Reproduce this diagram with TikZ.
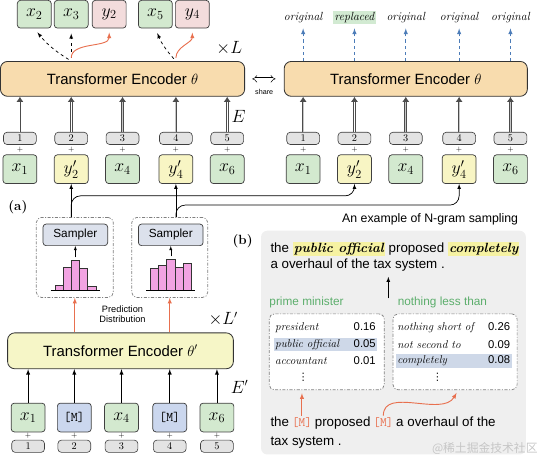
\documentclass[tikz,border=0pt]{standalone}
\usepackage{fontspec}
\setsansfont{Liberation Sans}
\newfontfamily\cjkfont{Noto Sans CJK SC}
\newfontfamily\symfont{DejaVu Sans}
\usepackage{amsmath}
\usetikzlibrary{arrows.meta}
\usetikzlibrary{positioning}
\tikzset{>=latex}

\definecolor{tokgreen}{HTML}{D3E9CF}
\definecolor{tokyellow}{HTML}{F8F5C4}
\definecolor{tokpink}{HTML}{F3DCDC}
\definecolor{tokblue}{HTML}{CBD7EE}
\definecolor{encorange}{HTML}{F8DCAE}
\definecolor{encyellow}{HTML}{F6F6C7}
\definecolor{smpblue}{HTML}{DCE1EC}
\definecolor{barpink}{HTML}{F2A3E2}
\definecolor{arrorange}{HTML}{E8704F}
\definecolor{arrblue}{HTML}{4C7CB8}
\definecolor{txtgreen}{HTML}{5CAE6C}
\definecolor{hlyellow}{HTML}{F6F2A2}
\definecolor{hlblue}{HTML}{CED8E8}
\definecolor{hlgreen}{HTML}{D2EAD2}
\definecolor{panelgray}{HTML}{EFEFEF}

\newcommand{\fsz}[1]{\fontsize{#1}{#1}\selectfont}
\newcommand{\hly}[1]{{\setlength{\fboxsep}{1pt}\colorbox{hlyellow}{\rmfamily\bfseries\itshape #1}}}
\newcommand{\mtk}{{\color{arrorange}\ttfamily[M]}}

\begin{document}
\begin{tikzpicture}[x=1pt,y=-1pt,
  tok/.style={draw=black!75, line width=0.7pt, rounded corners=3pt, minimum width=33pt, minimum height=28pt, inner sep=0pt, font=\fsz{17}},
  tokx/.style={tok, fill=tokgreen},
  toky/.style={tok, fill=tokyellow},
  tokm/.style={tok, fill=tokblue, font=\fsz{13}\ttfamily},
  outx/.style={tok, fill=tokgreen, minimum height=27pt},
  outy/.style={tok, fill=tokpink, minimum height=27pt},
  posbox/.style={draw=black!75, line width=0.6pt, fill=gray!22, rounded corners=3.5pt, minimum width=32pt, minimum height=12pt, inner sep=0pt, font=\fsz{10}},
  plus/.style={inner sep=0pt, font=\fsz{7}},
  enc/.style={draw=black!80, line width=0.8pt, rounded corners=7pt, minimum height=34pt, font=\sffamily\fsz{14.5}},
  emb/.style={draw=black!70, line width=2.6pt, -{Latex[length=5pt,width=7pt]}, postaction={draw=gray!45, line width=1.1pt, -, shorten >=5pt}},
  embw/.style={emb, postaction={draw=white, line width=1.1pt, -, shorten >=5pt}},
  dsh/.style={dashed, line width=0.7pt, ->, shorten <=3pt, shorten >=5pt},
  org/.style={arrorange, line width=0.9pt, ->},
  blu/.style={arrblue, dashed, line width=0.9pt, ->, shorten >=4pt},
  lbl/.style={inner sep=1.5pt, font=\fsz{11.5}\itshape},
  grp/.style={draw=gray, line width=0.7pt, dash pattern=on 3pt off 1.5pt on 1pt off 1.5pt, rounded corners=5pt},
  smp/.style={draw=black!75, line width=0.7pt, fill=smpblue, rounded corners=3pt, minimum width=63pt, minimum height=21pt, inner sep=0pt, font=\sffamily\fsz{11.5}},
  bar/.style={draw=black!80, line width=0.5pt, fill=barpink},
  txt/.style={inner sep=0pt, font=\sffamily\fsz{13}},
  cand/.style={inner sep=1.5pt, font=\fsz{11}, anchor=west},
  vdot/.style={inner sep=0pt, font=\symfont\fsz{10}},
  node distance=50pt, on grid]

% (a) left: generator output and discriminator-free top
\node[tokx] (la1) at (24,171) {$x_1$};
\node[toky] (la2) [right=of la1] {$y'_2$};
\node[tokx] (la3) [right=of la2] {$x_4$};
\node[toky] (la4) [right=52pt of la3] {$y'_4$};
\node[tokx] (la5) [right=of la4] {$x_6$};
\node[posbox] (lp1) [above=30pt of la1] {1};
\node[posbox] (lp2) [above=30pt of la2] {2};
\node[posbox] (lp3) [above=30pt of la3] {3};
\node[posbox] (lp4) [above=30pt of la4] {4};
\node[posbox] (lp5) [above=30pt of la5] {5};
\node[plus] [above=19pt of la1] {+};
\node[plus] [above=19pt of la2] {+};
\node[plus] [above=19pt of la3] {+};
\node[plus] [above=19pt of la4] {+};
\node[plus] [above=19pt of la5] {+};
\node[enc, fill=encorange, minimum width=238pt] (encA) at (124,83) {Transformer Encoder $\theta$};
\path
  (lp1.north) edge[embw] (lp1 |- encA.south)
  (lp2.north) edge[embw] (lp2 |- encA.south)
  (lp3.north) edge[emb] (lp3 |- encA.south)
  (lp4.north) edge[emb] (lp4 |- encA.south)
  (lp5.north) edge[embw] (lp5 |- encA.south);

\node[outx] (o1) at (38,20) {$x_2$};
\node[outx] (o2) [right=36pt of o1] {$x_3$};
\node[outy] (o3) [right=37pt of o2] {$y_2$};
\node[outx] (o4) at (156,20) {$x_5$};
\node[outy] (o5) [right=36pt of o4] {$y_4$};
\coordinate (s2) at (la2 |- encA.north);
\coordinate (s4) at (la4 |- encA.north);
\draw[dsh] (s2) to[bend left=10] (o1.south);
\draw[dsh] (s2) -- (s2 |- o2.south);
\draw[org, shorten <=3pt, shorten >=4pt] (s2) to[out=90,in=-90] (o3.south);
\draw[dsh] (s4) to[bend left=10] (o4.south);
\draw[org, shorten <=3pt, shorten >=4pt] (s4) to[out=90,in=-90] (o5.south);
\node[font=\fsz{16}] at (228,53) {$\times L$};
\node[font=\fsz{16}] at (237,120) {$E$};

% (a) right: shared encoder
\node[tokx] (ra1) at (300,171) {$x_1$};
\node[toky] (ra2) [right=of ra1] {$y'_2$};
\node[tokx] (ra3) [right=of ra2] {$x_4$};
\node[toky] (ra4) [right=52pt of ra3] {$y'_4$};
\node[tokx] (ra5) [right=of ra4] {$x_6$};
\node[posbox] (rp1) [above=30pt of ra1] {1};
\node[posbox] (rp2) [above=30pt of ra2] {2};
\node[posbox] (rp3) [above=30pt of ra3] {3};
\node[posbox] (rp4) [above=30pt of ra4] {4};
\node[posbox] (rp5) [above=30pt of ra5] {5};
\node[plus] [above=19pt of ra1] {+};
\node[plus] [above=19pt of ra2] {+};
\node[plus] [above=19pt of ra3] {+};
\node[plus] [above=19pt of ra4] {+};
\node[plus] [above=19pt of ra5] {+};
\node[enc, fill=encorange, minimum width=237pt] (encB) at (400,83) {Transformer Encoder $\theta$};
\path
  (rp1.north) edge[emb] (rp1 |- encB.south)
  (rp2.north) edge[embw] (rp2 |- encB.south)
  (rp3.north) edge[emb] (rp3 |- encB.south)
  (rp4.north) edge[emb] (rp4 |- encB.south)
  (rp5.north) edge[emb] (rp5 |- encB.south);
\node[lbl] (r1) at (300,23) {original};
\node[lbl, fill=hlgreen] (r2) at (350,23) {replaced};
\node[lbl] (r3) at (400,23) {original};
\node[lbl] (r4) at (452,23) {original};
\node[lbl] (r5) at (502,23) {original};
\path
  (ra1 |- encB.north) edge[blu] (r1.south)
  (ra2 |- encB.north) edge[blu] (r2.south)
  (ra3 |- encB.north) edge[blu] (r3.south)
  (ra4 |- encB.north) edge[blu] (r4.south)
  (ra5 |- encB.north) edge[blu] (r5.south);
\draw[{Implies}-{Implies}, double, double distance=2pt, line width=0.5pt, shorten <=7pt, shorten >=8pt] (encA.east) -- (encB.west);
\node[font=\sffamily\fsz{7}] at (262,96) {share};

% samplers
\node[font=\bfseries\fsz{13}] at (22,208) {(a)};
\node[grp, minimum width=75pt, minimum height=78pt] (g1) at (77.5,257) {};
\node[grp, minimum width=74pt, minimum height=78pt] (g2) at (170,257) {};
\node[smp] (sm1) at (78,235) {Sampler};
\node[smp] (sm2) at (171,235) {Sampler};
\foreach \x/\h in {58/5,66/22,74/29,82/21,90/4}
  \draw[bar] (\x,289) rectangle ++(8,-\h);
\foreach \x/\h in {151/21,159/24,167/30,175/22,183/26}
  \draw[bar] (\x,289) rectangle ++(8,-\h);
\draw[line width=0.6pt] (54,289) -- (102,289);
\draw[line width=0.6pt] (147,289) -- (195,289);
\coordinate (h1) at (78,257);
\coordinate (h2) at (171,256);
\draw[->] (h1) -- (sm1);
\draw[->] (h2) -- (sm2);
\node[align=center, font=\sffamily\fsz{9}] at (124,312) {Prediction\\[1pt]Distribution};

\draw[->, line width=0.7pt] (la2 |- g1.north) -- (la2.south);
\draw[->, line width=0.7pt] (la4 |- g2.north) -- (la4.south);
\coordinate (br1) at (200,197);
\coordinate (br2) at (300,206);
\draw[->, line width=0.7pt, rounded corners=9pt] (la2 |- g1.north) |- (br1) -| (ra2.south);
\draw[->, line width=0.7pt, rounded corners=9pt] (la4 |- g2.north) |- (br2) -| (ra4.south);

% generator
\node[enc, fill=encyellow, minimum width=220pt, minimum height=35pt] (encC) at (122,348) {Transformer Encoder $\theta'$};
\draw[org] (g1.south |- encC.north) -- (g1.south);
\draw[org] (g2.south |- encC.north) -- (g2.south);
\node[font=\fsz{16}] at (222,317) {$\times L'$};
\node[font=\fsz{16}] at (238,383) {$E'$};
\node[tokx] (ba1) at (32,413) {$x_1$};
\node[tokm] (ba2) [right=45pt of ba1] {[M]};
\node[tokx] (ba3) [right=46pt of ba2] {$x_4$};
\node[tokm] (ba4) [right=47pt of ba3] {[M]};
\node[tokx] (ba5) [right=46pt of ba4] {$x_6$};
\node[posbox] (bp1) [below=28pt of ba1] {1};
\node[posbox] (bp2) [below=28pt of ba2] {2};
\node[posbox] (bp3) [below=28pt of ba3] {3};
\node[posbox] (bp4) [below=28pt of ba4] {4};
\node[posbox] (bp5) [below=28pt of ba5] {5};
\node[plus] [below=18pt of ba1] {+};
\node[plus] [below=18pt of ba2] {+};
\node[plus] [below=18pt of ba3] {+};
\node[plus] [below=18pt of ba4] {+};
\node[plus] [below=18pt of ba5] {+};
\path[->, line width=0.8pt]
  (ba1.north) edge (ba1 |- encC.south)
  (ba2.north) edge (ba2 |- encC.south)
  (ba3.north) edge (ba3 |- encC.south)
  (ba4.north) edge (ba4 |- encC.south)
  (ba5.north) edge (ba5 |- encC.south);

% (b) N-gram example
\fill[panelgray, rounded corners=6pt] (259,231) rectangle (517,449);
\node[font=\bfseries\fsz{13}] at (241,241) {(b)};
\node[anchor=east, font=\sffamily\fsz{12}] at (513,220) {An example of N-gram sampling};
\node[txt, anchor=base west] (sa) at (268,252) {the \hly{public official} proposed \hly{completely}};
\node[txt, anchor=base west] (sb) at (268,268) {a overhaul of the tax system .};
\coordinate (bu) at (383,297);
\draw[->, line width=0.7pt, shorten >=5pt] (bu) -- (bu |- sb.south);
\node[anchor=west, inner sep=0pt, text=txtgreen, font=\sffamily\fsz{11.5}] at (267,301) {prime minister};
\node[anchor=west, inner sep=0pt, text=txtgreen, font=\sffamily\fsz{11.5}] at (392,301) {nothing less than};
\node[grp, fill=white, minimum width=112pt, minimum height=74pt] (cb1) at (323,349) {};
\node[grp, fill=white, minimum width=121pt, minimum height=74pt] (cb2) at (448,349) {};
\node[cand, text width=98pt] at (271,325) {\textit{president}\hfill{\sffamily 0.16}};
\node[cand, text width=98pt, fill=hlblue] at (271,342) {\textit{public official}\hfill{\sffamily 0.05}};
\node[cand, text width=98pt] at (271,358) {\textit{accountant}\hfill{\sffamily 0.01}};
\node[vdot] at (300,374) {⋮};
\node[cand, text width=110pt] at (390,325) {\textit{nothing short of}\hfill{\sffamily 0.26}};
\node[cand, text width=110pt] at (390,342) {\textit{not second to}\hfill{\sffamily 0.09}};
\node[cand, text width=110pt, fill=hlblue] at (390,358) {\textit{completely}\hfill{\sffamily 0.08}};
\node[vdot] at (431,374) {⋮};
\node[txt, anchor=base west] (w1) at (268,422) {the};
\node[txt, anchor=base west, inner xsep=2.5pt, font=\fsz{12.5}] (m1) at (w1.base east) {\mtk};
\node[txt, anchor=base west] (w2) at (m1.base east) {proposed};
\node[txt, anchor=base west, inner xsep=2.5pt, font=\fsz{12.5}] (m2) at (w2.base east) {\mtk};
\node[txt, anchor=base west] (w3) at (m2.base east) {a overhaul of the};
\node[txt, anchor=base west] (w4) at (268,440) {tax system .};
\draw[org, shorten <=2pt, shorten >=3pt] (m1.north) -- (m1.north |- cb1.south);
\draw[org, shorten <=2pt, shorten >=3pt] (m2.north) to[out=90,in=-120] ([xshift=3pt]cb2.south);
\node[font=\cjkfont\fsz{11.5}, text=gray!45] at (477,443) {@稀土掘金技术社区};
\end{tikzpicture}
\end{document}
